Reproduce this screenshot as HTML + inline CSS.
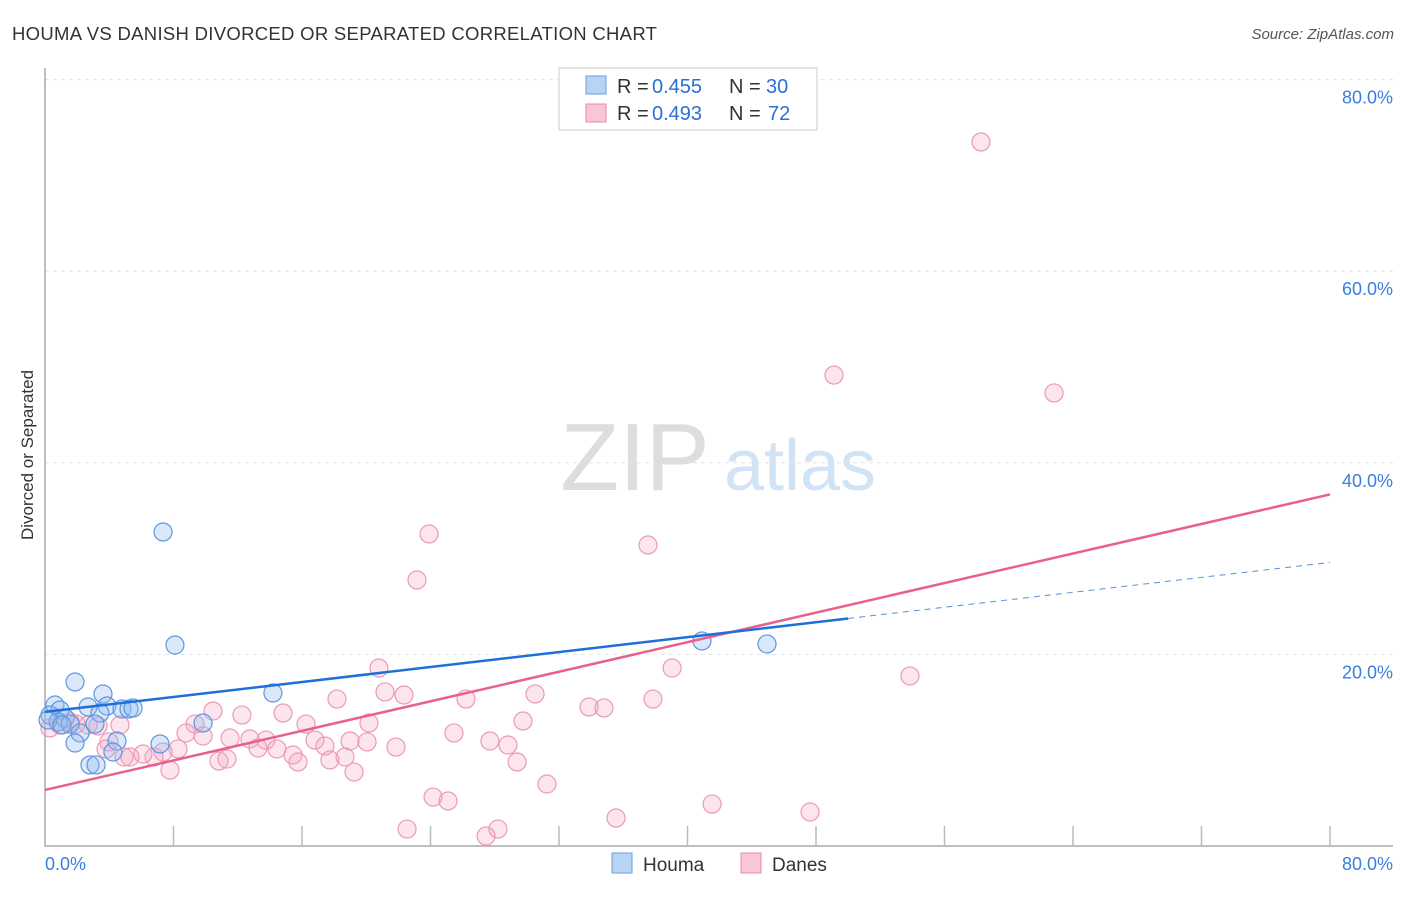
<!DOCTYPE html>
<html><head><meta charset="utf-8"><style>
body{margin:0;background:#fff;font-family:"Liberation Sans",sans-serif;}
svg text{font-family:"Liberation Sans",sans-serif;}
</style></head><body>
<svg width="1406" height="892" id="chart">
<text x="12" y="40" font-size="18.5" letter-spacing="0.3" fill="#333">HOUMA VS DANISH DIVORCED OR SEPARATED CORRELATION CHART</text>
<text x="1394" y="39" font-size="15" fill="#555" font-style="italic" text-anchor="end">Source: ZipAtlas.com</text>
<text x="33" y="455" font-size="17" fill="#333" text-anchor="middle" transform="rotate(-90 33 455)">Divorced or Separated</text>
<g><text x="635" y="490" font-size="96" fill="#ddd" font-family="Liberation Serif" text-anchor="middle">ZIP</text><text x="800" y="490" font-size="72" fill="#d3e3f6" text-anchor="middle">atlas</text></g>
<g id="grid"></g><g id="axes"></g><g id="pts"></g><g id="lines"></g>
<g>
<rect x="559" y="68" width="258" height="62" fill="#fff" stroke="#ccc"/>
<rect x="586" y="76" width="20" height="18" fill="#b8d4f5" stroke="#6a9ee0"/>
<rect x="586" y="104" width="20" height="18" fill="#f9c6d6" stroke="#e98aa8"/>
<text x="617" y="93" font-size="20" fill="#333">R = </text><text x="652" y="93" font-size="20" fill="#2a6fd6">0.455</text>
<text x="729" y="93" font-size="20" fill="#333">N = </text><text x="766" y="93" font-size="20" fill="#2a6fd6">30</text>
<text x="617" y="120" font-size="20" fill="#333">R = </text><text x="652" y="120" font-size="20" fill="#2a6fd6">0.493</text>
<text x="729" y="120" font-size="20" fill="#333">N = </text><text x="768" y="120" font-size="20" fill="#2a6fd6">72</text>
</g>
<g>
<rect x="612" y="853" width="20" height="20" fill="#b8d4f5" stroke="#6a9ee0"/>
<text x="643" y="871" font-size="19" fill="#333">Houma</text>
<rect x="741" y="853" width="20" height="20" fill="#f9c6d6" stroke="#e98aa8"/>
<text x="772" y="871" font-size="19" fill="#333">Danes</text>
</g>
</svg>
<script>
const yTicks=[20,40,60,80];
const xTicks=[0,8,16,24,32,40,48,56,64,72,80];
const houmaPx=[[163,532],[175,645],[75,682],[103,694],[55,705],[60,710],[88,707],[107,706],[122,709],[129,709],[133,708],[100,713],[50,715],[65,718],[58,722],[70,724],[95,724],[80,733],[75,743],[117,741],[113,752],[160,744],[90,765],[96,765],[273,693],[203,723],[702,641],[767,644],[48,720],[62,725]];
const danesPx=[[981,142],[834,375],[1054,393],[429,534],[648,545],[417,580],[672,668],[910,676],[379,668],[385,692],[404,695],[466,699],[535,694],[337,699],[589,707],[604,708],[653,699],[213,711],[242,715],[283,713],[195,724],[230,738],[186,733],[203,736],[306,724],[369,723],[523,721],[454,733],[490,741],[508,745],[250,739],[266,740],[315,740],[325,746],[350,741],[367,742],[396,747],[277,749],[293,755],[258,748],[178,749],[154,757],[143,754],[130,757],[124,757],[163,752],[109,742],[106,749],[517,762],[219,761],[227,759],[298,762],[330,760],[345,757],[354,772],[170,770],[547,784],[433,797],[448,801],[712,804],[810,812],[616,818],[407,829],[498,829],[486,836],[88,725],[98,726],[76,724],[60,725],[50,728],[120,725],[70,722]];
const houmaX=houmaPx.map(p=>+((p[0]-45)/16.0625).toFixed(2));
const houmaY=houmaPx.map(p=>+((846-p[1])/9.58).toFixed(2));
const danesX=danesPx.map(p=>+((p[0]-45)/16.0625).toFixed(2));
const danesY=danesPx.map(p=>+((846-p[1])/9.58).toFixed(2));
const houmaTrend=[14.0,29.6]; const houmaSolidEnd=50;
const danesTrend=[5.85,36.7];
const X=v=>45+v*16.0625, Y=v=>846-v*9.58;
const NS="http://www.w3.org/2000/svg";
function mk(parent,tag,attrs){const e=document.createElementNS(NS,tag);for(const k in attrs)e.setAttribute(k,attrs[k]);document.getElementById(parent).appendChild(e);return e;}
yTicks.forEach(t=>{
 const l=mk('grid','line',{x1:45,x2:1393,y1:Y(t),y2:Y(t),stroke:'#e2e2e2','stroke-dasharray':'4,4'});
 
 
 const tx=mk('grid','text',{x:1393,y:Y(t)+24,'font-size':18,fill:'#3a7ee0','text-anchor':'end'});tx.textContent=t.toFixed(1)+'%';
 
 
});
const ax=mk('axes','path',{d:'M45,68 V846 H1393',fill:'none',stroke:'#aaa','stroke-width':1.5});


xTicks.forEach(t=>{if(t===0)return;const l=mk('axes','line',{x1:X(t),x2:X(t),y1:826,y2:846,stroke:'#bbb','stroke-width':1.5});
 
 });
const x0=mk('axes','text',{x:45,y:870,'font-size':18,fill:'#3a7ee0'});x0.textContent='0.0%';


const x1=mk('axes','text',{x:1393,y:870,'font-size':18,fill:'#3a7ee0','text-anchor':'end'});x1.textContent='80.0%';


danesX.forEach((v,i)=>{const c=mk('pts','circle',{cx:X(v),cy:Y(danesY[i]),r:9,fill:'rgba(246,170,196,0.3)',stroke:'#eb9ab4','stroke-width':1.2});
 
 });
houmaX.forEach((v,i)=>{const c=mk('pts','circle',{cx:X(v),cy:Y(houmaY[i]),r:9,fill:'rgba(150,190,240,0.35)',stroke:'#5d96e0','stroke-width':1.2});
 
 });
const hy=x=>houmaTrend[0]+(houmaTrend[1]-houmaTrend[0])*x/80;
const dl=mk('lines','line',{x1:X(0),y1:Y(danesTrend[0]),x2:X(80),y2:Y(danesTrend[1]),stroke:'#e8608c','stroke-width':2.5});


const hl=mk('lines','line',{x1:X(0),y1:Y(hy(0)),x2:X(houmaSolidEnd),y2:Y(hy(houmaSolidEnd)),stroke:'#1f6fd8','stroke-width':2.5});


const hd=mk('lines','line',{x1:X(houmaSolidEnd),y1:Y(hy(houmaSolidEnd)),x2:X(80),y2:Y(hy(80)),stroke:'#5a90d8','stroke-width':1,'stroke-dasharray':'6,5'});


</script>
</body></html>
